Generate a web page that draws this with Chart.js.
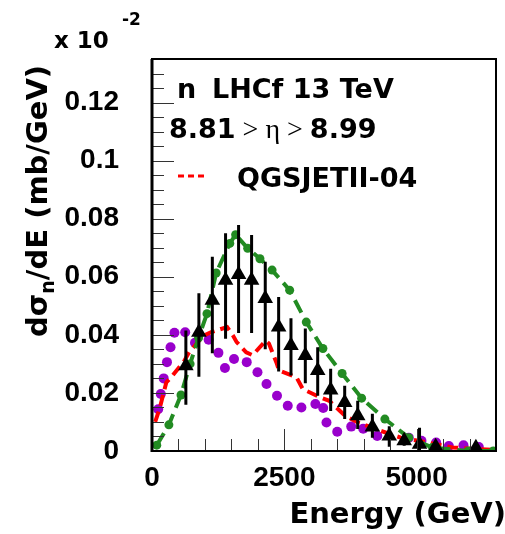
<!DOCTYPE html>
<html>
<head>
<meta charset="utf-8">
<script src="https://cdn.jsdelivr.net/npm/chart.js@4.4.1/dist/chart.umd.min.js"></script>
<style>
  html, body { margin: 0; padding: 0; background: #fff; }
</style>
</head>
<body>
<canvas id="chart" width="505" height="534"></canvas>
<script>
// LHCf 13 TeV neutron spectrum, 8.81 > eta > 8.99 (units 1e-2 mb/GeV)
const dataEnergy = [640, 886, 1140, 1390, 1636, 1882, 2140, 2393, 2626, 2897, 3131, 3376, 3641, 3887, 4164, 4483, 4765, 5055, 5360, 6120];
const dataValue = [0.0294, 0.0409, 0.0519, 0.0588, 0.0608, 0.0588, 0.0525, 0.0427, 0.0363, 0.0329, 0.0277, 0.0210, 0.0167, 0.0121, 0.0083, 0.0052, 0.0035, 0.0023, 0.0015, 0.0011];
const dataErrHigh = [0.0415, 0.0543, 0.0669, 0.0750, 0.0778, 0.0744, 0.0652, 0.0530, 0.0457, 0.0422, 0.0357, 0.0283, 0.0225, 0.0173, 0.0128, 0.0085, 0.0055, 0.0080, 0.0025, 0.0018];
const dataErrLow = [0.0159, 0.0256, 0.0337, 0.0387, 0.0406, 0.0406, 0.0350, 0.0274, 0.0260, 0.0233, 0.0190, 0.0138, 0.0110, 0.0076, 0.0046, 0.0015, 0.0018, 0.0000, 0.0008, 0.0005];

// green dashed model with dots
const greenEnergy = [90, 319, 548, 720, 880, 1039, 1212, 1470, 1580, 1808, 2040, 2269, 2601, 2915, 3229, 3592, 3961, 4400, 4852, 5300, 5978, 6450];
const greenValue = [0.0020, 0.0090, 0.0193, 0.0300, 0.0390, 0.0473, 0.0613, 0.0715, 0.0745, 0.0698, 0.0662, 0.0623, 0.0554, 0.0444, 0.0353, 0.0267, 0.0182, 0.0110, 0.0046, 0.0012, 0.0000, 0.0000];

// QGSJETII-04, red dashed
const qgsjetEnergy = [60, 150, 270, 390, 610, 700, 980, 1130, 1420, 1530, 1600, 1780, 1900, 2150, 2210, 2360, 2400, 2730, 2850, 3190, 3350, 3650, 3900, 4330, 4700, 5190, 5680, 6200, 6500];
const qgsjetValue = [0.0100, 0.0150, 0.0236, 0.0260, 0.0310, 0.0340, 0.0398, 0.0410, 0.0427, 0.0398, 0.0375, 0.0340, 0.0330, 0.0380, 0.0370, 0.0300, 0.0277, 0.0254, 0.0213, 0.0184, 0.0173, 0.0121, 0.0098, 0.0069, 0.0046, 0.0030, 0.0012, 0.0006, 0.0004];

// purple dotted model
const purpleEnergy = [117, 166, 221, 283, 350, 424, 627, 812, 1070, 1255, 1378, 1550, 1790, 1993, 2164, 2362, 2565, 2823, 3087, 3235, 3297, 3500, 3764, 3991, 4256, 4852, 5092, 5369, 5609, 5886, 6175];
const purpleValue = [0.0144, 0.0196, 0.0250, 0.0306, 0.0357, 0.0407, 0.0409, 0.0373, 0.0383, 0.0338, 0.0286, 0.0317, 0.0306, 0.0271, 0.0231, 0.0190, 0.0156, 0.0150, 0.0162, 0.0148, 0.0098, 0.0066, 0.0084, 0.0077, 0.0052, 0.0046, 0.0035, 0.0029, 0.0017, 0.0020, 0.0014];

const xTickValues = [0, 2500, 5000];
const xTickLabels = ["0", "2500", "5000"];
const yTickValues = [0, 0.02, 0.04, 0.06, 0.08, 0.1, 0.12];
const yTickLabels = ["0", "0.02", "0.04", "0.06", "0.08", "0.1", "0.12"];

const xMax = 6500;
const yMax = 0.135;
const xMinorStep = 500;
const yMinorStep = 0.005;

const toPoints = (xs, ys) => xs.map((x, i) => ({ x, y: ys[i] }));

const titleFont = "bold 27px 'DejaVu Sans'";
const axisTitleFont = "bold 29px 'DejaVu Sans'";

// error bars, inner ticks, frame and the text annotations
const rootStyle = {
  id: "rootStyle",
  beforeDatasetDraw(chart, args) {
    if (args.index !== 0) return;
    const { ctx, scales: { x, y } } = chart;
    ctx.save();
    ctx.strokeStyle = "#000";
    ctx.lineWidth = 3;
    ctx.beginPath();
    dataEnergy.forEach((e, i) => {
      const px = x.getPixelForValue(e);
      ctx.moveTo(px, y.getPixelForValue(dataErrHigh[i]));
      ctx.lineTo(px, y.getPixelForValue(dataErrLow[i]));
    });
    ctx.stroke();
    ctx.restore();
  },
  afterDraw(chart) {
    const { ctx, chartArea: a, scales: { x, y } } = chart;
    ctx.save();

    // ticks pointing into the frame
    ctx.strokeStyle = "#333";
    ctx.lineWidth = 1;
    ctx.beginPath();
    for (let i = 0; i * yMinorStep <= yMax + 1e-9; i++) {
      const py = Math.round(y.getPixelForValue(i * yMinorStep)) + 0.5;
      const len = i % 4 === 0 ? 22 : 12;
      ctx.moveTo(a.left, py);
      ctx.lineTo(a.left + len, py);
    }
    for (let i = 0; i * xMinorStep <= xMax; i++) {
      const px = Math.round(x.getPixelForValue(i * xMinorStep)) + 0.5;
      const len = i % 5 === 0 ? 22 : 12;
      ctx.moveTo(px, a.bottom);
      ctx.lineTo(px, a.bottom - len);
    }
    ctx.stroke();

    // frame
    ctx.strokeStyle = "#000";
    ctx.lineWidth = 2;
    ctx.strokeRect(a.left, a.top, a.right - a.left, a.bottom - a.top);
    ctx.lineWidth = 3;
    ctx.beginPath();
    ctx.moveTo(a.left, a.top);
    ctx.lineTo(a.left, a.bottom + 1);
    ctx.stroke();

    ctx.fillStyle = "#000";
    ctx.textAlign = "left";
    ctx.textBaseline = "alphabetic";

    // exponent of the y axis
    ctx.font = "bold 23px 'DejaVu Sans'";
    ctx.fillText("x 10", 54, 48);
    ctx.font = "bold 17px 'DejaVu Sans'";
    ctx.fillText("-2", 122, 25);

    // y axis title, rotated, with subscript n
    ctx.save();
    ctx.translate(47, 337);
    ctx.rotate(-Math.PI / 2);
    ctx.font = axisTitleFont;
    ctx.fillText("d\u03c3", 0, 0);
    let off = ctx.measureText("d\u03c3").width;
    ctx.font = "bold 19px 'DejaVu Sans'";
    ctx.fillText("n", off, 7);
    off += ctx.measureText("n").width;
    ctx.font = axisTitleFont;
    ctx.fillText("/dE (mb/GeV)", off, 0);
    ctx.restore();

    // x axis title, right aligned
    ctx.font = axisTitleFont;
    ctx.textAlign = "right";
    ctx.fillText("Energy (GeV)", 506, 523);
    ctx.textAlign = "left";

    // annotations inside the frame
    ctx.font = titleFont;
    ctx.fillText("n", a.left + 25, 98);
    ctx.fillText("LHCf 13 TeV", a.left + 60, 98);

    let tx = a.left + 17;
    ctx.fillText("8.81", tx, 138);
    tx += ctx.measureText("8.81").width;
    ctx.font = "28px 'Liberation Serif'";
    const mid = " > \u03b7 > ";
    ctx.fillText(mid, tx, 138);
    tx += ctx.measureText(mid).width;
    ctx.font = titleFont;
    ctx.fillText("8.99", tx, 138);

    // legend entry
    ctx.strokeStyle = "#ff0000";
    ctx.lineWidth = 3;
    ctx.setLineDash([6, 4]);
    ctx.beginPath();
    ctx.moveTo(a.left + 26, 176);
    ctx.lineTo(a.left + 55, 176);
    ctx.stroke();
    ctx.setLineDash([]);
    ctx.fillText("QGSJETII-04", a.left + 85, 187);

    ctx.restore();
  }
};

const tickFont = { family: "Liberation Sans", weight: "bold", size: 28 };

new Chart(document.getElementById("chart"), {
  type: "scatter",
  data: {
    datasets: [
      {
        label: "LHCf",
        data: toPoints(dataEnergy, dataValue),
        pointStyle: "triangle",
        pointRadius: 9,
        backgroundColor: "#000",
        borderColor: "#000",
        borderWidth: 0,
        order: 0
      },
      {
        label: "green model",
        data: toPoints(greenEnergy, greenValue),
        showLine: true,
        borderColor: "#228b22",
        backgroundColor: "#228b22",
        borderWidth: 4,
        borderDash: [14, 7],
        pointRadius: 4.5,
        pointBorderWidth: 0,
        order: 1
      },
      {
        label: "QGSJETII-04",
        data: toPoints(qgsjetEnergy, qgsjetValue),
        showLine: true,
        borderColor: "#ff0000",
        borderWidth: 4,
        borderDash: [11, 6],
        pointRadius: 0,
        order: 2
      },
      {
        label: "purple model",
        data: toPoints(purpleEnergy, purpleValue),
        showLine: false,
        backgroundColor: "#9900cc",
        borderWidth: 0,
        pointRadius: 5,
        order: 3
      }
    ]
  },
  options: {
    responsive: false,
    animation: false,
    devicePixelRatio: 1,
    layout: { padding: { top: 59, right: 1, left: 0, bottom: 0 } },
    plugins: { legend: { display: false }, tooltip: { enabled: false } },
    scales: {
      x: {
        type: "linear",
        min: 0,
        max: xMax,
        grid: { display: false, drawTicks: false },
        border: { display: false },
        afterBuildTicks: (s) => { s.ticks = xTickValues.map((v) => ({ value: v })); },
        afterFit: (s) => { s.height = 83; },
        ticks: {
          font: tickFont,
          color: "#000",
          padding: 10,
          maxRotation: 0,
          autoSkip: false,
          callback: (v, i) => xTickLabels[i]
        }
      },
      y: {
        type: "linear",
        min: 0,
        max: yMax,
        grid: { display: false, drawTicks: false },
        border: { display: false },
        afterBuildTicks: (s) => { s.ticks = yTickValues.map((v) => ({ value: v })); },
        afterFit: (s) => { s.width = 152; },
        ticks: {
          font: tickFont,
          color: "#000",
          padding: 33,
          autoSkip: false,
          callback: (v, i) => yTickLabels[i]
        }
      }
    }
  },
  plugins: [rootStyle]
});
</script>
</body>
</html>
